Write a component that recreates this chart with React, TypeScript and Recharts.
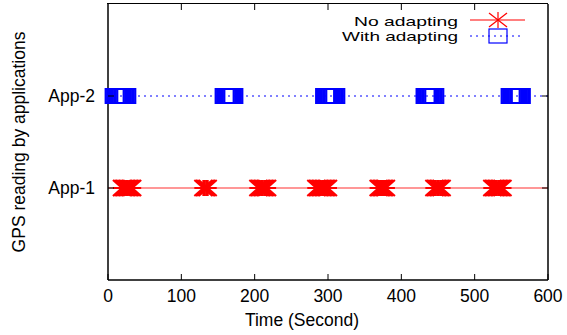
import React from "react";
import { ScatterChart, Scatter, XAxis, YAxis, ReferenceLine } from "recharts";

// times (s) at which each app read the GPS
const noAdaptTimes = [19, 21, 23, 25, 27, 29, 31, 33, 130, 132, 134, 136, 205, 207, 209, 211, 213, 215, 217, 284, 286, 288, 290, 292, 294, 296, 298, 300, 369, 371, 373, 375, 377, 379, 445, 447, 449, 451, 453, 455, 524, 526, 528, 530, 532, 534, 536, 538];
const withAdaptTimes = [9, 11, 13, 15, 17, 19, 21, 23, 25, 159, 161, 163, 165, 167, 169, 171, 296, 298, 300, 302, 304, 306, 308, 310, 433, 435, 437, 439, 441, 443, 445, 549, 551, 553, 555, 557, 559, 561, 563];
const xTicks = [0, 100, 200, 300, 400, 500, 600];
const yTicks = [1, 2];
const yLabels: Record<number, string> = { 1: "App-1", 2: "App-2" };
const Y_MAX = 3;

const noAdaptData = noAdaptTimes.map((t) => ({ t, app: 1 }));
const withAdaptData = withAdaptTimes.map((t) => ({ t, app: 2 }));

const FONT = "'Liberation Sans', Arial, sans-serif";
const FS = 17.5;

const Star = ({ cx, cy }: any) => (
  <g stroke="#ff0000" strokeWidth={2}>
    <line x1={cx - 9} y1={cy} x2={cx + 9} y2={cy} />
    <line x1={cx} y1={cy - 8} x2={cx} y2={cy + 8} />
    <line x1={cx - 9} y1={cy - 8} x2={cx + 9} y2={cy + 8} />
    <line x1={cx - 9} y1={cy + 8} x2={cx + 9} y2={cy - 8} />
  </g>
);

const Box = ({ cx, cy }: any) => (
  <rect x={cx - 9} y={cy - 7} width={18} height={14} fill="none" stroke="#0000ff" strokeWidth={2} />
);

const Nothing = () => <g />;

const LegendStar = ({ cx, cy }: any) => (
  <g stroke="#ff0000" strokeWidth={1.2}>
    <line x1={cx} y1={cy - 8} x2={cx} y2={cy + 8} />
    <line x1={cx - 9} y1={cy - 7} x2={cx + 9} y2={cy + 7} />
    <line x1={cx - 9} y1={cy + 7} x2={cx + 9} y2={cy - 7} />
  </g>
);

// bottom axis tick: inward mark plus label, and the mirrored mark on the top frame
const BottomTick = ({ x, y, payload, top }: any) => (
  <g>
    <line x1={x} y1={y} x2={x} y2={y - 6} stroke="#000" />
    {payload.value > 0 && payload.value < 600 && (
      <line x1={x} y1={top} x2={x} y2={top + 6} stroke="#000" />
    )}
    <text x={x} y={y + 22} textAnchor="middle" fontFamily={FONT} fontSize={FS} fill="#000">
      {payload.value}
    </text>
  </g>
);

const LeftTick = ({ x, y, payload }: any) => (
  <g>
    <line x1={x} y1={y} x2={x + 6} y2={y} stroke="#000" />
    <text x={x - 13} y={y + 6} textAnchor="end" fontFamily={FONT} fontSize={FS} fill="#000">
      {yLabels[payload.value]}
    </text>
  </g>
);

const RightTick = ({ x, y }: any) => <line x1={x} y1={y} x2={x - 6} y2={y} stroke="#000" />;

const LegendBox = () => (
  <svg width={220} height={46} style={{ fontFamily: FONT, position: "absolute", top: 0, left: 330 }}>
    <text x={128} y={26} textAnchor="end" fontSize={13.5} fill="#000" textLength={104} lengthAdjust="spacingAndGlyphs">No adapting</text>
    <line x1={140} y1={20} x2={195} y2={20} stroke="#ff0000" strokeWidth={1.2} />
    <LegendStar cx={168} cy={20} />
    <text x={128} y={41} textAnchor="end" fontSize={13.5} fill="#000" textLength={116} lengthAdjust="spacingAndGlyphs">With adapting</text>
    <line x1={140} y1={36} x2={192} y2={36} stroke="#0000ff" strokeDasharray="2 4" />
    <rect x={159} y={29} width={18} height={14} fill="none" stroke="#0000ff" strokeWidth={1.2} />
  </svg>
);

const TOP = 4;

export default function App() {
  return (
    <div style={{ position: "absolute", left: 0, top: 0, width: 567, height: 335, background: "#fff" }}>
      <ScatterChart width={567} height={335} margin={{ top: TOP, right: 18, bottom: 0, left: 0 }}>
        <XAxis
          xAxisId="b"
          type="number"
          dataKey="t"
          domain={[0, 600]}
          ticks={xTicks}
          interval={0}
          height={55}
          tickSize={0}
          tickMargin={0}
          tickLine={false}
          tick={<BottomTick top={TOP} />}
          axisLine={{ stroke: "#000", strokeWidth: 1.5 }}
          label={{ value: "Time (Second)", position: "insideBottom", offset: 9, dx: -26, fontFamily: FONT, fontSize: FS, fill: "#000" }}
        />
        <YAxis
          yAxisId="l"
          type="number"
          dataKey="app"
          domain={[0, Y_MAX]}
          ticks={yTicks}
          interval={0}
          width={108}
          tickSize={0}
          tickMargin={0}
          tickLine={false}
          tick={<LeftTick />}
          axisLine={{ stroke: "#000", strokeWidth: 1.5 }}
          label={{ value: "GPS reading by applications", angle: -90, position: "insideLeft", offset: 19, fontFamily: FONT, fontSize: FS, fill: "#000", style: { textAnchor: "middle" } }}
        />
        <YAxis
          yAxisId="r"
          orientation="right"
          type="number"
          dataKey="app"
          domain={[0, Y_MAX]}
          ticks={yTicks}
          interval={0}
          width={1}
          tickSize={0}
          tickMargin={0}
          tickLine={false}
          tick={<RightTick />}
          axisLine={{ stroke: "#000", strokeWidth: 1.5 }}
        />
        <ReferenceLine xAxisId="b" yAxisId="l" y={1} stroke="#ff3030" strokeWidth={1.2} />
        <ReferenceLine xAxisId="b" yAxisId="l" y={2} stroke="#0000ff" strokeDasharray="2 4" />
        <Scatter name="No adapting" xAxisId="b" yAxisId="l" data={noAdaptData} shape={<Star />} isAnimationActive={false} />
        <Scatter name="With adapting" xAxisId="b" yAxisId="l" data={withAdaptData} shape={<Box />} isAnimationActive={false} />
        <Scatter name="frame" xAxisId="b" yAxisId="r" data={noAdaptData} shape={<Nothing />} isAnimationActive={false} />
      </ScatterChart>
      {/* top edge of the plot frame */}
      <div style={{ position: "absolute", top: TOP - 1, left: 107, width: 441, borderTop: "1.5px solid #000" }} />
      <LegendBox />
    </div>
  );
}
